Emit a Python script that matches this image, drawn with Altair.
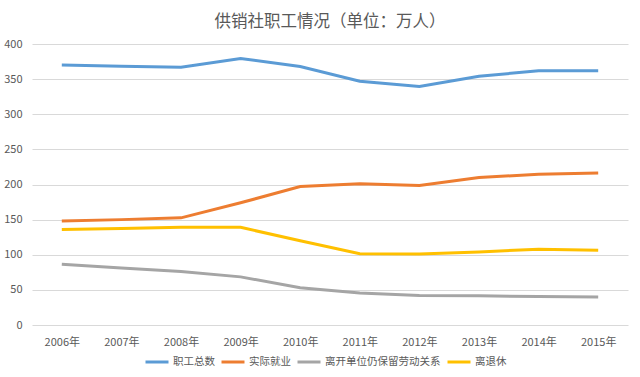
import altair as alt
import pandas as pd

years = ["2006年", "2007年", "2008年", "2009年", "2010年", "2011年", "2012年", "2013年", "2014年", "2015年"]
series_names = ["职工总数", "实际就业", "离开单位仍保留劳动关系", "离退休"]
total = [370, 368.5, 367, 379.5, 368, 347, 339.5, 354, 362, 362]
employed = [148, 150, 152.5, 174, 197, 201, 198.5, 210, 214.5, 216.5]
retained = [86.5, 81, 76, 68.5, 53, 45.5, 42, 41.5, 40.5, 40]
retired = [136, 137.5, 139, 139, 120, 101.5, 101, 104, 108, 106.5]
colors = ["#5B9BD5", "#ED7D31", "#A5A5A5", "#FFC000"]

rows = []
for name, vals in zip(series_names, [total, employed, retained, retired]):
    for y, v in zip(years, vals):
        rows.append({"年份": y, "系列": name, "值": v})
df = pd.DataFrame(rows)

font = "Noto Sans CJK SC"
gray = "#595959"

chart = alt.Chart(df).mark_line(strokeWidth=3).encode(
    x=alt.X("年份:N", sort=years, title=None,
            scale=alt.Scale(paddingInner=0, paddingOuter=0),
            axis=alt.Axis(labelAngle=0, ticks=False, domain=False, grid=False,
                          labelFont=font, labelFontSize=11, labelColor=gray, labelPadding=11)),
    y=alt.Y("值:Q", title=None,
            scale=alt.Scale(domain=[0, 400]),
            axis=alt.Axis(values=[0, 50, 100, 150, 200, 250, 300, 350, 400], ticks=False, domain=False,
                          gridColor="#D9D9D9", gridWidth=1,
                          labelFont=font, labelFontSize=11, labelColor=gray, labelPadding=10)),
    color=alt.Color("系列:N", sort=series_names,
                    scale=alt.Scale(domain=series_names, range=colors),
                    legend=alt.Legend(title=None, orient="none", direction="horizontal",
                                      legendX=112, legendY=305,
                                      symbolType="stroke", symbolSize=529, symbolStrokeWidth=3,
                                      labelFont=font, labelFontSize=10.5, labelColor=gray,
                                      columnPadding=0, labelOffset=3)),
    order=alt.Order("年份:N"),
).properties(
    width=596, height=281,
    padding={"left": 32, "top": 44, "right": 12, "bottom": 52},
    autosize=alt.AutoSizeParams(type="none"),
    title=alt.TitleParams("供销社职工情况（单位：万人）", font=font, fontSize=16.5,
                          fontWeight="normal", color=gray, offset=8, anchor="middle"),
).configure_view(stroke=None)

chart.save("out.html", embed_options={"renderer": "svg", "actions": False})
